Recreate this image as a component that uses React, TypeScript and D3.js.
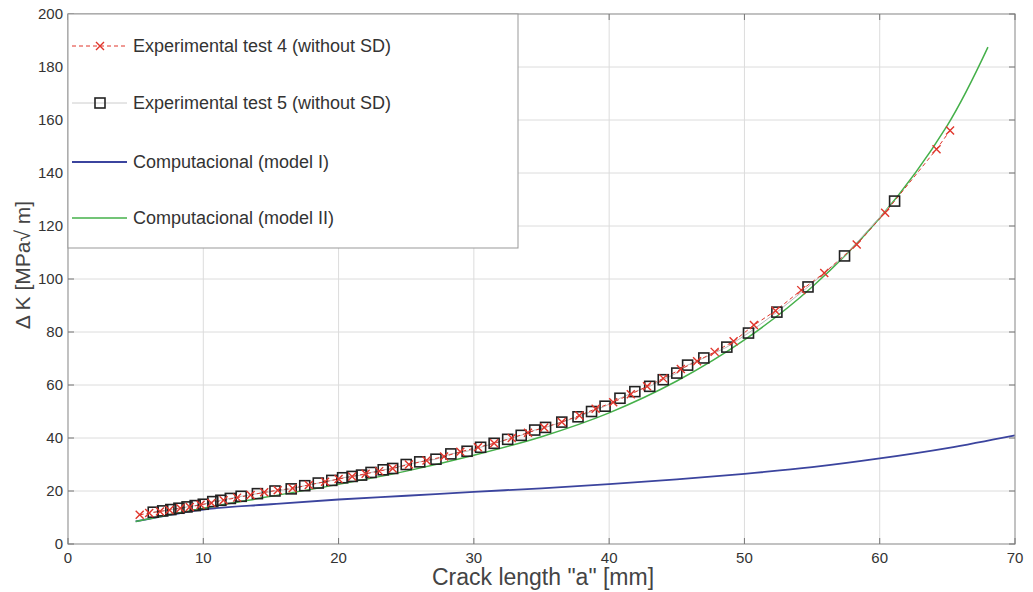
import React from 'react';
import * as d3 from 'd3';

// Experimental test 4 (red crosses, dashed)
const test4X = [5.3, 6, 6.8, 7.5, 8.3, 9, 9.8, 10.6, 11.5, 12.5, 13.5, 14.5, 15.5, 16.6, 17.8, 19, 20, 21, 22, 23, 24, 25.2, 26.5, 27.8, 29, 30.3, 31.5, 32.8, 34, 35.2, 36.5, 37.8, 39, 40.3, 41.6, 42.8, 44, 45.3, 46.5, 47.8, 49.2, 50.7, 52.3, 54.2, 55.9, 58.3, 60.4, 64.2, 65.2];
const test4Y = [11, 11.7, 12.3, 12.8, 13.5, 14, 14.8, 15.5, 16.5, 17.5, 18.5, 19.5, 20.3, 21, 22.3, 23.5, 24.5, 25.5, 26.5, 27.5, 28.5, 30, 31.5, 33, 34.8, 36.5, 38, 40, 42, 44, 46, 48.5, 51, 53.5, 56.5, 59.5, 62.5, 66, 69, 72.5, 76.5, 82.6, 88, 95.8, 102.3, 113, 125, 149, 156];

// Experimental test 5 (black squares)
const test5X = [6.3, 7, 7.6, 8.2, 8.8, 9.4, 10, 10.7, 11.3, 12, 12.8, 14, 15.3, 16.5, 17.5, 18.5, 19.5, 20.3, 21, 21.7, 22.4, 23.3, 24, 25, 26, 27.2, 28.3, 29.5, 30.5, 31.5, 32.5, 33.5, 34.5, 35.3, 36.5, 37.7, 38.7, 39.7, 40.8, 41.9, 43, 44, 45, 45.8, 47, 48.7, 50.3, 52.4, 54.7, 57.4, 61.1];
const test5Y = [12, 12.5, 13, 13.5, 14, 14.5, 15, 16, 16.5, 17.2, 18, 19, 20, 20.8, 22, 23, 24, 25, 25.5, 26, 27, 28, 28.5, 30, 31, 32, 34, 35, 36.5, 38, 39.5, 41, 43, 44, 46, 48, 50, 52, 55, 57.5, 59.5, 62, 64.5, 67.5, 70.2, 74.3, 79.6, 87.5, 97, 108.7, 129.4];

// Computacional (model I)
const model1X = [5, 10, 15, 20, 25, 30, 35, 40, 45, 50, 55, 60, 65, 70];
const model1Y = [8.5, 13, 15, 16.8, 18.2, 19.7, 21, 22.6, 24.4, 26.5, 29, 32.3, 36.2, 41];

// Computacional (model II)
const model2X = [5, 10, 15, 20, 25, 30, 35, 40, 45, 50, 55, 60, 65, 68];
const model2Y = [8.5, 13.5, 18, 22.5, 27.5, 33.5, 40.5, 49.5, 61.5, 77, 97, 123, 158, 187.5];

const xTicks = [0, 10, 20, 30, 40, 50, 60, 70];
const yTicks = [0, 20, 40, 60, 80, 100, 120, 140, 160, 180, 200];

const legendLabels = [
  'Experimental test 4 (without SD)',
  'Experimental test 5 (without SD)',
  'Computacional (model I)',
  'Computacional (model II)',
];

const W = 1033;
const H = 592;
const left = 68, right = 1015, top = 14, bottom = 544;
const font = '"Liberation Sans", Arial, sans-serif';

export default function App() {
  const x = d3.scaleLinear().domain([0, 70]).range([left, right]);
  const y = d3.scaleLinear().domain([0, 200]).range([bottom, top]);

  const zip = (xs: number[], ys: number[]) => xs.map((v, i) => [v, ys[i]] as [number, number]);
  const t4 = zip(test4X, test4Y);
  const t5 = zip(test5X, test5Y);

  const straight = d3.line<[number, number]>().x(d => x(d[0])).y(d => y(d[1]));
  const smooth = d3.line<[number, number]>().x(d => x(d[0])).y(d => y(d[1])).curve(d3.curveCatmullRom);

  const cross = (cx: number, cy: number, s: number, key: any) => (
    <path key={key} d={`M${cx - s},${cy - s}L${cx + s},${cy + s}M${cx - s},${cy + s}L${cx + s},${cy - s}`}
      stroke="#e0352b" strokeWidth={1.4} fill="none" />
  );
  const square = (cx: number, cy: number, s: number, key: any) => (
    <rect key={key} x={cx - s} y={cy - s} width={2 * s} height={2 * s}
      stroke="#222" strokeWidth={1.6} fill="none" />
  );

  const legendY = [46, 103, 162, 218];

  return (
    <svg width={W} height={H} style={{ display: 'block', position: 'absolute', left: 0, top: 0, background: '#fff' }}>
      {/* grid */}
      <g stroke="#dcdcdc" strokeWidth={1}>
        {xTicks.slice(1, -1).map(t => <line key={'gx' + t} x1={x(t)} x2={x(t)} y1={top} y2={bottom} />)}
        {yTicks.slice(1, -1).map(t => <line key={'gy' + t} x1={left} x2={right} y1={y(t)} y2={y(t)} />)}
      </g>

      {/* series */}
      <path d={smooth(zip(model1X, model1Y)) || ''} fill="none" stroke="#3b449e" strokeWidth={1.8} />
      <path d={smooth(zip(model2X, model2Y)) || ''} fill="none" stroke="#45b04a" strokeWidth={1.5} />
      <path d={straight(t5) || ''} fill="none" stroke="#bbb" strokeWidth={1} />
      <path d={straight(t4) || ''} fill="none" stroke="#e0352b" strokeWidth={1} strokeDasharray="4,3" />
      {t5.map((d, i) => square(x(d[0]), y(d[1]), 5, 's' + i))}
      {t4.map((d, i) => cross(x(d[0]), y(d[1]), 4, 'c' + i))}

      {/* axes box and ticks */}
      <rect x={left} y={top} width={right - left} height={bottom - top} fill="none" stroke="#999" strokeWidth={1.2} />
      <g stroke="#777" strokeWidth={1}>
        {xTicks.map(t => (
          <g key={'tx' + t}>
            <line x1={x(t)} x2={x(t)} y1={bottom} y2={bottom - 6} />
            <line x1={x(t)} x2={x(t)} y1={top} y2={top + 6} />
          </g>
        ))}
        {yTicks.map(t => (
          <g key={'ty' + t}>
            <line x1={left} x2={left + 6} y1={y(t)} y2={y(t)} />
            <line x1={right} x2={right - 6} y1={y(t)} y2={y(t)} />
          </g>
        ))}
      </g>
      <g fontFamily={font} fontSize={15} fill="#333">
        {xTicks.map(t => (
          <text key={'lx' + t} x={x(t)} y={bottom + 19} textAnchor="middle">{t}</text>
        ))}
        {yTicks.map(t => (
          <text key={'ly' + t} x={left - 5} y={y(t) + 5} textAnchor="end">{t}</text>
        ))}
      </g>
      <text x={543} y={585} textAnchor="middle" fontFamily={font} fontSize={23} fill="#444">
        Crack length "a" [mm]
      </text>
      <text transform={`translate(30,265) rotate(-90)`} textAnchor="middle"
        fontFamily={font} fontSize={21} fill="#444">
        Δ K [MPa√ m]
      </text>

      {/* legend */}
      <rect x={left} y={top} width={450} height={234} fill="#fff" stroke="#999" strokeWidth={1} />
      <line x1={72} x2={127} y1={legendY[0]} y2={legendY[0]} stroke="#e0352b" strokeWidth={1} strokeDasharray="4,3" />
      {cross(100, legendY[0], 4, 'lc')}
      <line x1={72} x2={127} y1={legendY[1]} y2={legendY[1]} stroke="#ccc" strokeWidth={1} />
      {square(100, legendY[1], 5, 'ls')}
      <line x1={72} x2={127} y1={legendY[2]} y2={legendY[2]} stroke="#3b449e" strokeWidth={1.8} />
      <line x1={72} x2={127} y1={legendY[3]} y2={legendY[3]} stroke="#45b04a" strokeWidth={1.5} />
      <g fontFamily={font} fontSize={18} fill="#333">
        {legendLabels.map((l, i) => (
          <text key={l} x={133} y={legendY[i] + 6}>{l}</text>
        ))}
      </g>
    </svg>
  );
}
